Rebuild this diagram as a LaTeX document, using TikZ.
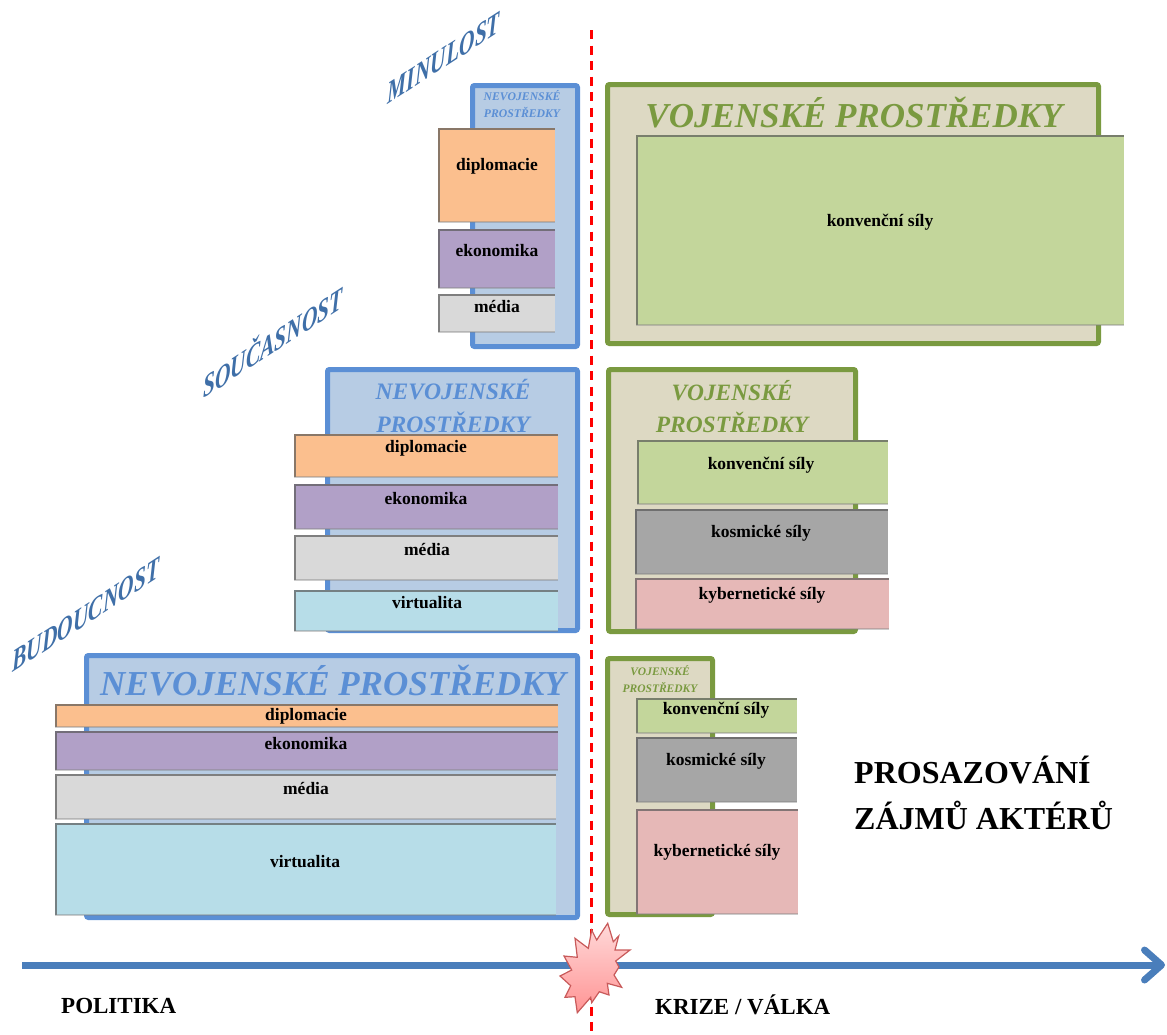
\documentclass[tikz,border=0pt]{standalone}
\usepackage{fontspec}
\setmainfont{Liberation Serif}
\usetikzlibrary{arrows.meta,shadows}
\definecolor{blueline}{HTML}{5B8FD5}
\definecolor{bluefill}{HTML}{B7CCE4}
\definecolor{greenline}{HTML}{7A9A40}
\definecolor{greenfill}{HTML}{DDD9C3}
\definecolor{orangebar}{HTML}{FBBF8E}
\definecolor{purplebar}{HTML}{B1A0C7}
\definecolor{greybar}{HTML}{D9D9D9}
\definecolor{tealbar}{HTML}{B7DDE8}
\definecolor{greenbar}{HTML}{C3D69B}
\definecolor{darkbar}{HTML}{A6A6A6}
\definecolor{pinkbar}{HTML}{E6B8B7}
\definecolor{axisblue}{HTML}{4A7EBB}
\definecolor{erablue}{HTML}{3F6FA8}
\begin{document}
\begin{tikzpicture}[
        x=1pt, y=-1pt,
        size/.style 2 args={minimum width=#1, minimum height=#2},
        framebox/.style={rectangle, anchor=north west, rounded corners=2pt, line width=5pt, inner sep=0pt, outer sep=0pt,
            drop shadow={opacity=0.25, shadow xshift=1pt, shadow yshift=-1.5pt}},
        bluebox/.style={framebox, draw=blueline, fill=bluefill},
        greenbox/.style={framebox, draw=greenline, fill=greenfill},
        barbox/.style={rectangle, anchor=north west, inner sep=0pt, outer sep=0pt, fill=#1,
            path picture={
                \draw[black!65, opacity=0.7, line width=3.5pt] (path picture bounding box.south west) -- (path picture bounding box.north west) -- (path picture bounding box.north east);
                \draw[black!50, opacity=0.4, line width=2.5pt] (path picture bounding box.south west) -- (path picture bounding box.south east);
            }},
        barlabel/.style={font=\fontsize{17.5}{20}\selectfont\bfseries, inner sep=0pt, yshift=-0.5pt},
        bluehead/.style={text=blueline, align=center, inner sep=0pt},
        greenhead/.style={text=greenline, align=center, inner sep=0pt},
        eralabel/.style={text=erablue, font=\fontsize{21.5}{24}\selectfont\bfseries\itshape, yslant=0.65, yscale=1.45, transform shape, inner sep=0pt},
        bigtext/.style={font=\fontsize{23}{26}\selectfont\bfseries, anchor=west, inner sep=0pt}
    ]
    \useasboundingbox (0,0) rectangle (1167,1034);

    % divider and axis
    \coordinate (divtop) at (591.5,30);
    \coordinate (divbottom) at (591.5,1034);
    \coordinate (axisleft) at (22,965);
    \coordinate (axisright) at (1165,965);
    \draw[red, line width=2.5pt, dash pattern=on 9pt off 6.5pt] (divtop) -- (divbottom);
    \draw[axisblue, line width=7pt, -{Straight Barb[round, length=17pt, width=30pt]}] (axisleft) -- (axisright);

    % minulost
    \node[bluebox, size={105}{261}] (blueA) at (472.5,85.5) {};
    \node[greenbox, size={491}{259}] (greenA) at (607.5,84.5) {};
    \node[bluehead, font=\fontsize{11.7}{17}\selectfont\bfseries\itshape] (blueAhead) at (522,104) {NEVOJENSKÉ\\PROSTŘEDKY};
    \node[greenhead, font=\fontsize{35}{40}\selectfont\bfseries\itshape] (greenAhead) at (854,113) {VOJENSKÉ PROSTŘEDKY};
    \node[barbox=orangebar, size={117}{94}] (dipA) at (438,128) {};
    \node[barbox=purplebar, size={117}{59}] (ekoA) at (438,229) {};
    \node[barbox=greybar, size={117}{38}] (medA) at (438,294) {};
    \node[barbox=greenbar, size={488}{190}] (konA) at (636,135) {};
    \node[barlabel] (dipAtext) at (497,166) {diplomacie};
    \node[barlabel] (ekoAtext) at (497,250) {ekonomika};
    \node[barlabel] (medAtext) at (497,306) {média};
    \node[barlabel] (konAtext) at (880,222) {konvenční síly};

    % soucasnost
    \node[bluebox, size={250}{261}] (blueB) at (327.5,369.5) {};
    \node[greenbox, size={247}{262}] (greenB) at (608.5,369.5) {};
    \node[bluehead, font=\fontsize{23.6}{33}\selectfont\bfseries\itshape] (blueBhead) at (453,406) {NEVOJENSKÉ\\PROSTŘEDKY};
    \node[greenhead, font=\fontsize{23.4}{32}\selectfont\bfseries\itshape] (greenBhead) at (732,407) {VOJENSKÉ\\PROSTŘEDKY};
    \node[barbox=orangebar, size={264}{43}] (dipB) at (294,434) {};
    \node[barbox=purplebar, size={264}{45}] (ekoB) at (294,484) {};
    \node[barbox=greybar, size={264}{45}] (medB) at (294,535) {};
    \node[barbox=tealbar, size={264}{41}] (virB) at (294,590) {};
    \node[barbox=greenbar, size={251}{64}] (konB) at (637,440) {};
    \node[barbox=darkbar, size={253}{65}] (kosB) at (635,509) {};
    \node[barbox=pinkbar, size={254}{51}] (kybB) at (635,578) {};
    \node[barlabel] (dipBtext) at (426,448) {diplomacie};
    \node[barlabel] (ekoBtext) at (426,498) {ekonomika};
    \node[barlabel] (medBtext) at (427,549) {média};
    \node[barlabel] (virBtext) at (427,602) {virtualita};
    \node[barlabel] (konBtext) at (761,465) {konvenční síly};
    \node[barlabel] (kosBtext) at (761,533) {kosmické síly};
    \node[barlabel] (kybBtext) at (762,595) {kybernetické síly};

    % budoucnost
    \node[bluebox, size={491}{262}] (blueC) at (86.5,655.5) {};
    \node[greenbox, size={105}{256}] (greenC) at (607.5,658.5) {};
    \node[bluehead, font=\fontsize{35}{40}\selectfont\bfseries\itshape] (blueChead) at (333,681) {NEVOJENSKÉ PROSTŘEDKY};
    \node[greenhead, font=\fontsize{11.5}{17}\selectfont\bfseries\itshape] (greenChead) at (660,679) {VOJENSKÉ\\PROSTŘEDKY};
    \node[barbox=orangebar, size={503}{23}] (dipC) at (55,704) {};
    \node[barbox=purplebar, size={503}{39}] (ekoC) at (55,731) {};
    \node[barbox=greybar, size={501}{45}] (medC) at (55,774) {};
    \node[barbox=tealbar, size={501}{92}] (virC) at (55,823) {};
    \node[barbox=greenbar, size={161}{35}] (konC) at (636,698) {};
    \node[barbox=darkbar, size={161}{65}] (kosC) at (636,737) {};
    \node[barbox=pinkbar, size={162}{105}] (kybC) at (636,809) {};
    \node[barlabel] (dipCtext) at (306,716) {diplomacie};
    \node[barlabel] (ekoCtext) at (306,743) {ekonomika};
    \node[barlabel] (medCtext) at (306,788) {média};
    \node[barlabel] (virCtext) at (305,861) {virtualita};
    \node[barlabel] (konCtext) at (716,710) {konvenční síly};
    \node[barlabel] (kosCtext) at (716,761) {kosmické síly};
    \node[barlabel] (kybCtext) at (717,852) {kybernetické síly};

    % era names
    \node[eralabel] (minulost) at (444,58) {MINULOST};
    \node[eralabel] (soucasnost) at (273,340) {SOUČASNOST};
    \node[eralabel] (budoucnost) at (86,615) {BUDOUCNOST};

    % texts
    \node[font=\fontsize{32}{46}\selectfont\bfseries, align=left, anchor=west, inner sep=0pt] (zajmy) at (854,793) {PROSAZOVÁNÍ\\ZÁJMŮ AKTÉRŮ};
    \node[bigtext] (politika) at (61,1006) {POLITIKA};
    \node[bigtext] (krize) at (655,1004.5) {KRIZE / VÁLKA};

    % burst on the axis
    \draw[draw={rgb,255:red,200;green,90;blue,90}, line width=1.2pt, line join=miter, top color=red!15, bottom color=red!42]
        (607.7,923.3) -- (613.3,941.7) -- (618.7,936) -- (615,950) -- (630,950) -- (615.7,961) -- (619,967)
        -- (614,975) -- (621.7,987.3) -- (607.3,983.3) -- (609,995) -- (599.3,991.7) -- (591.7,1002.7) -- (590.7,997.3)
        -- (577.3,1012.7) -- (575,996.7) -- (565,997.3) -- (570.7,985.7) -- (560,976) -- (571.7,970) -- (564,956)
        -- (577.3,957.3) -- (575,938.3) -- (588.3,948.3) -- (591.7,930) -- (596.7,940) -- cycle;
\end{tikzpicture}
\end{document}
